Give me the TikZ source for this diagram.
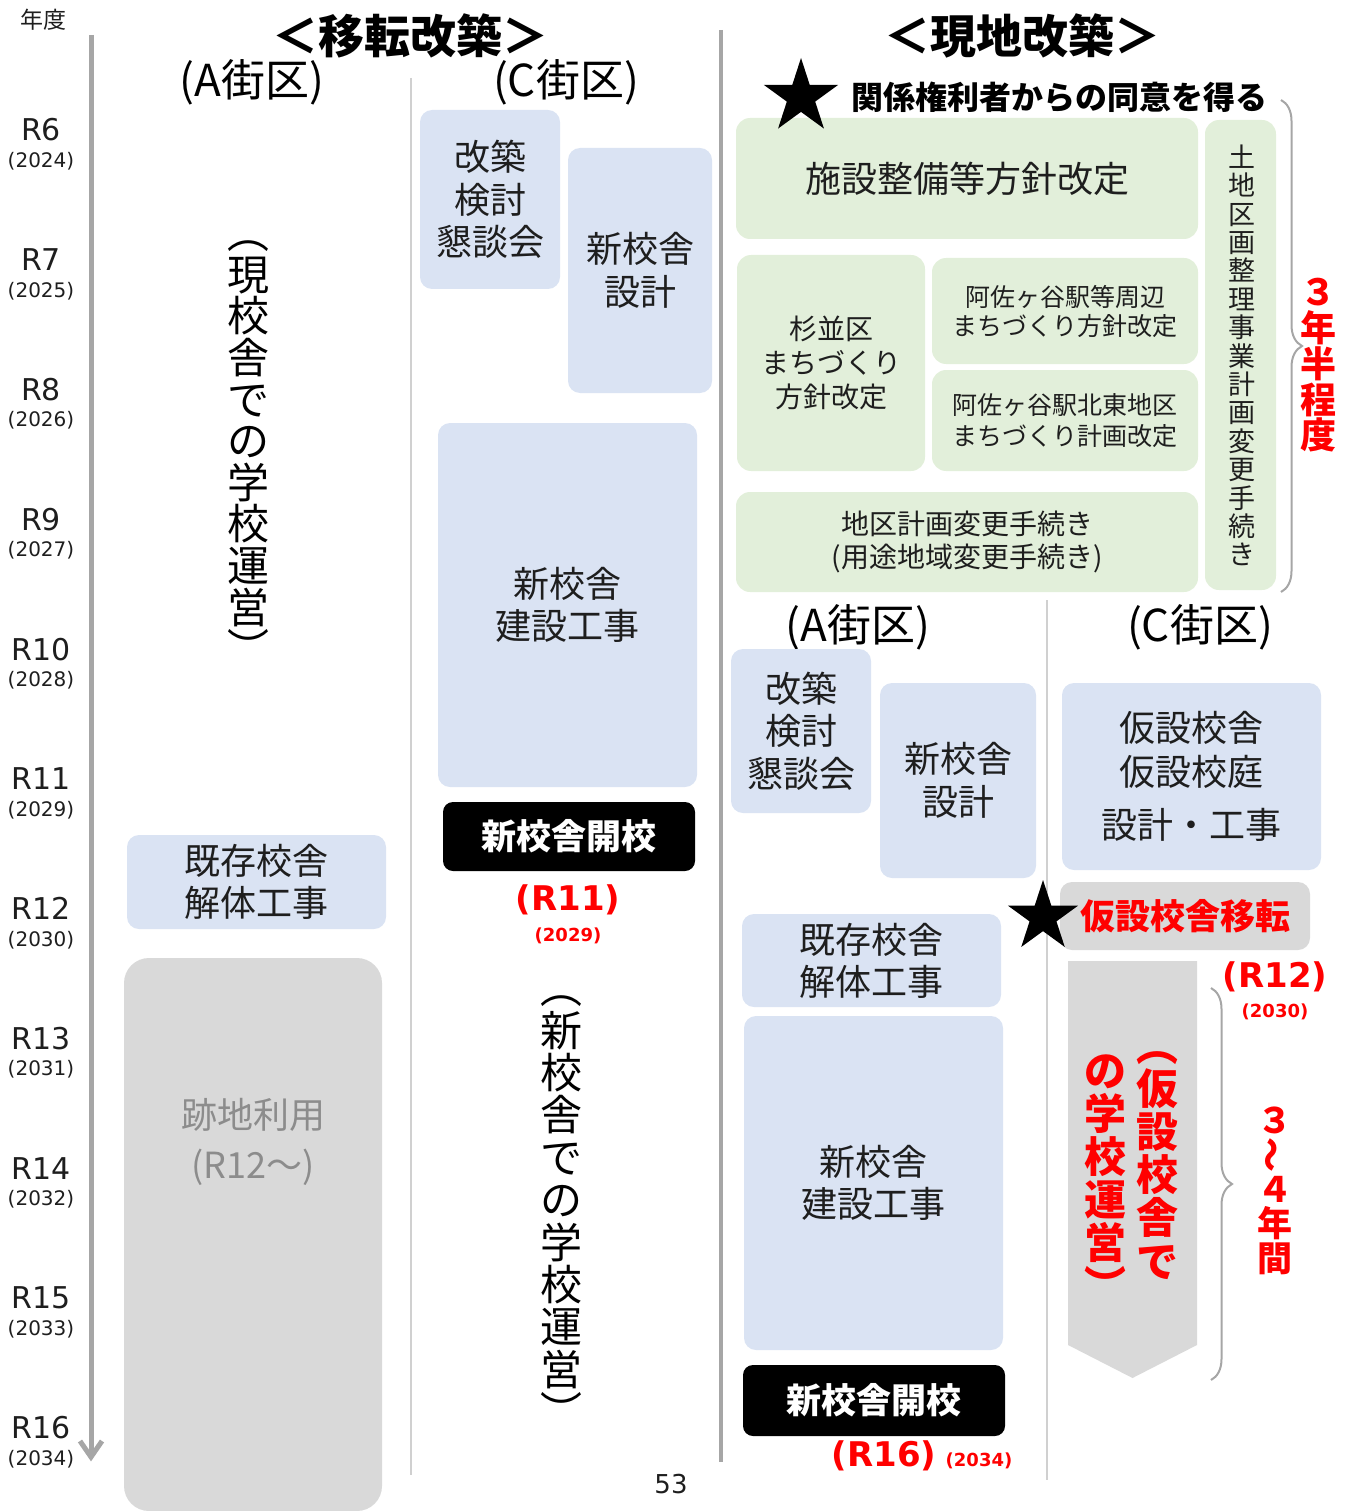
\documentclass[tikz,border=0pt]{standalone}
\usepackage{fontspec}
\setmainfont{Noto Sans CJK JP}
\newfontfamily\lat{DejaVu Sans}
\usetikzlibrary{shapes.geometric,decorations.pathreplacing}
\definecolor{boxblue}{HTML}{DAE3F3}
\definecolor{boxgreen}{HTML}{E2EFDA}
\definecolor{boxgray}{HTML}{D9D9D9}
\definecolor{axisgray}{HTML}{A6A6A6}
\definecolor{linegray}{HTML}{D0D0D0}
\definecolor{txtgray}{HTML}{8C8C8C}
\definecolor{redtxt}{HTML}{FF0000}
\definecolor{ink}{HTML}{1E1E1E}
\newcommand\fs[2]{\fontsize{#1}{#2}\selectfont}
\newcommand\vlp{\raisebox{0.88em}{\rotatebox{-90}{（}}}
\newcommand\vrp{\raisebox{0.88em}{\rotatebox{-90}{）}}}
\newcommand\vtl{\raisebox{-0.12em}{\rotatebox{90}{〜}}}
\newcommand\VertCol[6]{\foreach \c [count=\i] in {#6}{\node[#5, anchor=base, inner sep=0pt] (#1\i) at (#2, {#3+(\i-1)*#4}) {\c};}}
\tikzset{
  bluebox/.style={fill=boxblue, rounded corners=12, inner sep=0pt, align=center, text=ink, font=\fs{36}{42.5}},
  greenbox/.style={fill=boxgreen, rounded corners=14, inner sep=0pt, align=center, text=ink},
  graybox/.style={fill=boxgray, rounded corners=14, inner sep=0pt, align=center},
  blackbox/.style={fill=black, rounded corners=10, inner sep=0pt, text=white, font=\fs{35}{38}\bfseries},
  vblack/.style={text=black, font=\fs{42}{42}},
  vgreen/.style={text=ink, font=\fs{27}{28}},
  vred/.style={text=redtxt, font=\fs{36}{36}\bfseries},
  vredbig/.style={text=redtxt, font=\fs{42}{42}\bfseries},
  vredsm/.style={text=redtxt, font=\fs{35}{35}\bfseries},
  redbig/.style={text=redtxt, font=\lat\bfseries\fs{34}{36}},
  redsmall/.style={text=redtxt, font=\lat\bfseries\fs{18}{20}},
  heading/.style={font=\fs{46}{50}\bfseries, text=black},
  district/.style={font=\fs{44}{48}, text=black},
  axisline/.style={draw=axisgray, line width=5},
  divider/.style={draw=linegray, line width=1.2},
  bracestyle/.style={draw=axisgray, line width=2, decorate},
  starnode/.style={star, star points=5, star point ratio=2.618, fill=black, inner sep=0pt}
}
\begin{document}
\begin{tikzpicture}[x=1pt,y=-1pt]
\useasboundingbox (0,0) rectangle (1349,1511);

% ---------- axis ----------
\node[font=\fs{23}{25}, text=ink] (nendo) at (43,20) {年度};
\coordinate (axtop) at (91,35);
\coordinate (axbot) at (91,1456);
\draw[axisline] (axtop) -- (axbot);
\draw[axisline, line join=miter] (80,1441) -- (91,1457) -- (102,1441);
\foreach \r/\yr [count=\i from 0] in {6/2024,7/2025,8/2026,9/2027,10/2028,11/2029,12/2030,13/2031,14/2032,15/2033,16/2034}{
  \node[font=\lat\fs{30}{32}, text=ink] (R\r) at (41,{130+\i*129.8}) {R\r};
  \node[font=\lat\fs{20}{22}, text=ink] (Y\r) at (41,{161+\i*129.8}) {(\yr)};
}

% ---------- dividers ----------
\draw[divider] (411,78) -- (411,1475);
\draw[axisgray, line width=4] (721,30) -- (721,1462);
\draw[divider] (1047,600) -- (1047,1480);

% ---------- headings ----------
\node[heading] (h1) at (410,36) {＜移転改築＞};
\node[heading] (h2) at (1022,36) {＜現地改築＞};
\node[district] (a1) at (252,82) {(A街区)};
\node[district] (c1) at (566,82) {(C街区)};

% ---------- relocation, A district ----------
\VertCol{L}{248}{248.7}{41.6}{vblack}{\vlp,現,校,舎,で,の,学,校,運,営,\vrp}
\node[bluebox, minimum width=259, minimum height=94] (kizonA) at (256.5,882) {既存校舎\\解体工事};
\node[graybox, rounded corners=25, minimum width=258, minimum height=553] (atochi) at (253,1234.5) {};
\node[font=\fs{36}{50}, text=txtgray, align=center] (atochiT) at (253,1142) {跡地利用\\(R12〜)};

% ---------- relocation, C district ----------
\node[bluebox, minimum width=140, minimum height=179] (kaichikuC) at (490,199.5) {改築\\検討\\懇談会};
\node[bluebox, minimum width=144, minimum height=245, font=\fs{36}{43}] (sekkeiC) at (640,270.5) {新校舎\\設計};
\node[bluebox, minimum width=259, minimum height=364, font=\fs{36}{42}] (kensetsuC) at (567.5,605) {新校舎\\建設工事};
\node[blackbox, minimum width=252, minimum height=69] (kaikoC) at (569,836.5) {新校舎開校};
\node[redbig] (r11) at (568,900) {(R11)};
\node[redsmall] (y11) at (568,936) {(2029)};
\VertCol{M}{561}{1003.6}{42.4}{vblack}{\vlp,新,校,舎,で,の,学,校,運,営,\vrp}

% ---------- on-site rebuild ----------
\node[font=\fs{32}{34}\bfseries, text=black, anchor=west] (agree) at (848,97) {関係権利者からの同意を得る};
\node[greenbox, minimum width=462, minimum height=121, font=\fs{36}{40}] (shisetsu) at (967,178.5) {施設整備等方針改定};
\node[starnode, minimum size=78] (star1) at (801,97) {};
\node[greenbox, minimum width=71, minimum height=470] (tochi) at (1240.5,355) {};
\VertCol{T}{1242}{167.3}{28.4}{vgreen}{土,地,区,画,整,理,事,業,計,画,変,更,手,続,き}
\node[greenbox, minimum width=188, minimum height=216, font=\fs{28}{34}] (sugi) at (831,363) {杉並区\\まちづくり\\方針改定};
\node[greenbox, minimum width=266, minimum height=106, font=\fs{25}{29}] (asa1) at (1065,311) {阿佐ヶ谷駅等周辺\\まちづくり方針改定};
\node[greenbox, minimum width=266, minimum height=101, font=\fs{25}{31}] (asa2) at (1065,420.5) {阿佐ヶ谷駅北東地区\\まちづくり計画改定};
\node[greenbox, minimum width=462, minimum height=100, font=\fs{28}{33}] (chiku) at (967,542) {地区計画変更手続き\\(用途地域変更手続き)};
\coordinate (b1a) at (1281,100);
\coordinate (b1b) at (1281,592);
\draw[bracestyle, decoration={brace, amplitude=21}] (b1a) -- (b1b);
\VertCol{S}{1318}{305.7}{35.8}{vred}{３,年,半,程,度}

\node[district] (a2) at (858,627) {(A街区)};
\node[district] (c2) at (1200,627) {(C街区)};
\node[bluebox, minimum width=140, minimum height=164] (kaichikuA) at (801,731) {改築\\検討\\懇談会};
\node[bluebox, minimum width=156, minimum height=195, font=\fs{36}{43}] (sekkeiA) at (958,780.5) {新校舎\\設計};
\node[bluebox, minimum width=259, minimum height=187, font=\fs{36}{44}] (kasetsu) at (1191.5,776.5) {仮設校舎\\仮設校庭\\[9pt]設計・工事};
\node[graybox, rounded corners=12, minimum width=250, minimum height=68, text=redtxt, font=\fs{35}{38}\bfseries] (iten) at (1185,916) {仮設校舎移転};
\node[starnode, minimum size=74] (star2) at (1043,917) {};
\node[bluebox, minimum width=259, minimum height=93, font=\fs{36}{42}] (kizonB) at (871.5,960.5) {既存校舎\\解体工事};
\node[bluebox, minimum width=259, minimum height=334, font=\fs{36}{42}] (kensetsuB) at (873.5,1183) {新校舎\\建設工事};
\node[blackbox, minimum width=262, minimum height=71] (kaikoB) at (874,1400.5) {新校舎開校};
\node[redbig] (r16) at (884,1456) {(R16)};
\node[redsmall] (y16) at (979,1461) {(2034)};

% temporary school arrow
\fill[boxgray] (1068,961) -- (1197,961) -- (1197,1345) -- (1132.5,1378) -- (1068,1345) -- cycle;
\VertCol{P}{1157}{1061}{43.2}{vredbig}{\vlp,仮,設,校,舎,で}
\VertCol{Q}{1105}{1086}{43}{vredbig}{の,学,校,運,営,\vrp}
\node[redbig] (r12) at (1275,977) {(R12)};
\node[redsmall] (y12) at (1275,1012) {(2030)};
\coordinate (b2a) at (1211,988);
\coordinate (b2b) at (1211,1380);
\draw[bracestyle, decoration={brace, amplitude=21}] (b2a) -- (b2b);
\VertCol{W}{1275}{1133.3}{34.5}{vredsm}{３,\vtl,４,年,間}

\node[font=\lat\fs{26}{28}, text=ink] (pg) at (671,1484) {53};
\end{tikzpicture}
\end{document}
